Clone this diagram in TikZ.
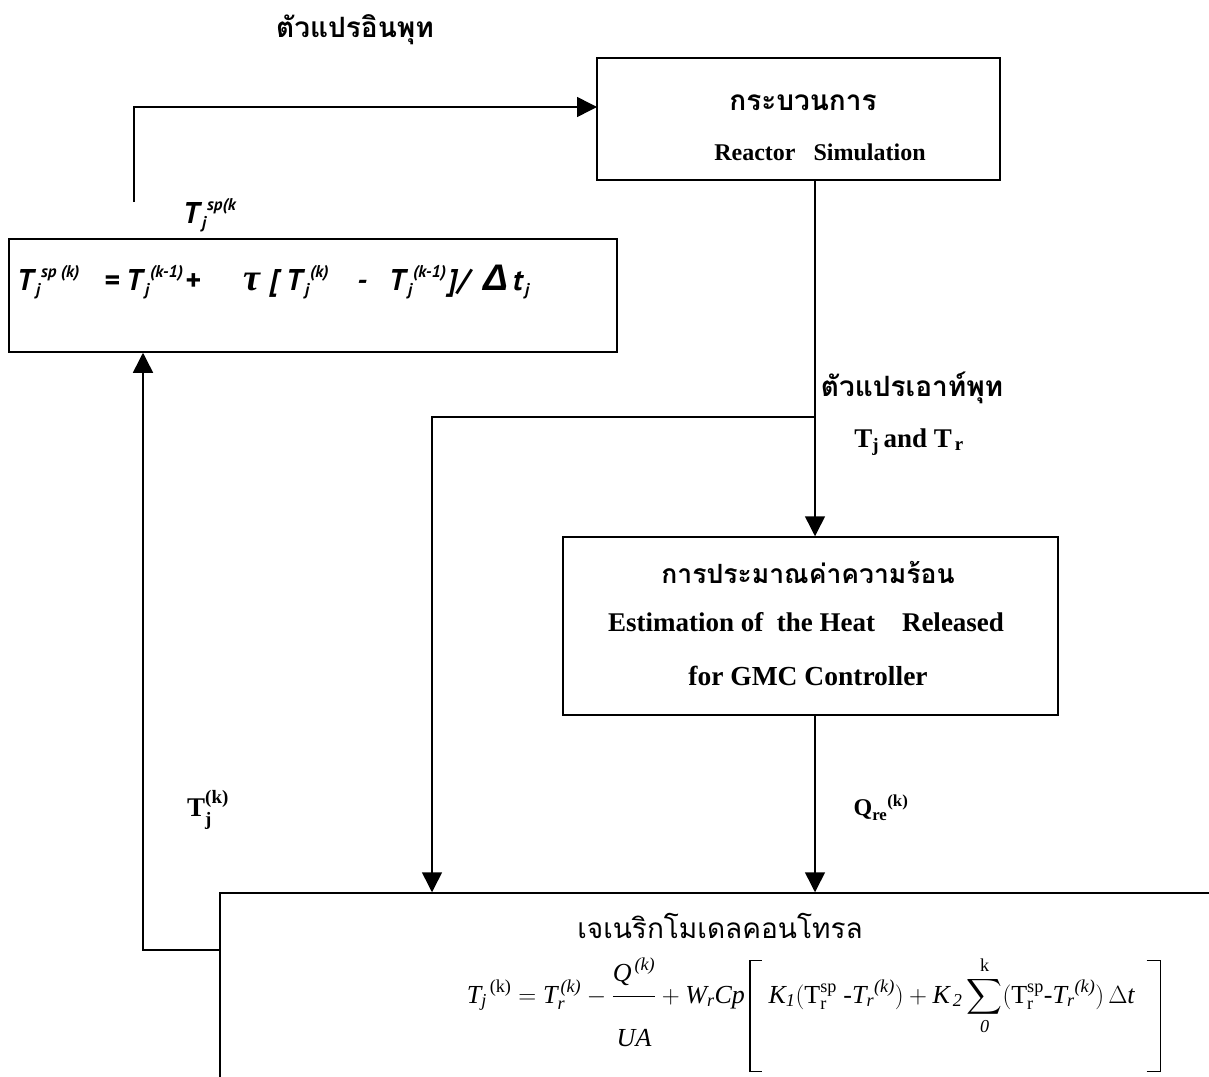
\documentclass[tikz,border=0pt]{standalone}
\usepackage{fontspec}
\usepackage{amsmath}
\setmainfont{Liberation Serif}
\newfontfamily\thai[Script=Thai]{Loma}
\newfontfamily\hum{PT Sans}
\newfontfamily\lsans{Liberation Sans}
\usetikzlibrary{arrows.meta,calc}
\newcommand\ri[1]{\text{\itshape #1}}
\newcommand\rr[1]{\text{\upshape #1}}
\newcommand\bb[1]{\text{\bfseries #1}}
% absolute placement inside a formula line
\newcommand\pc[2]{\makebox[0pt][l]{\hspace*{\dimexpr #1pt\relax}#2}}
\newcommand\smi{\hum\bfseries\itshape\fontsize{17}{18}\selectfont}
\newcommand\TJ[2]{\pc{#1}{T}\pc{\numexpr #1+19\relax}{\raisebox{-5pt}{\smi j}}\pc{\numexpr #1+24\relax}{\raisebox{13pt}{\smi #2}}}
% tall square brackets built from rules
\newcommand\lbrk{\raisebox{-69pt}{\rlap{\rule{13pt}{1.3pt}}\rlap{\raisebox{110.7pt}{\rule{13pt}{1.3pt}}}\rule{1.6pt}{112pt}}\hspace*{11pt}}
\newcommand\rbrk{\hspace*{11pt}\raisebox{-69pt}{\llap{\rule{13pt}{1.3pt}}\llap{\raisebox{110.7pt}{\rule{13pt}{1.3pt}}}\rule{1.6pt}{112pt}}}
\tikzset{
  box/.style={draw, line width=1.5pt, inner sep=0pt},
  arr/.style={line width=1.5pt, -{Triangle[length=20pt,width=20pt]}},
  thaib/.style={font=\thai\bfseries\fontsize{28}{32}\selectfont, inner sep=0pt},
  thair/.style={font=\thai\fontsize{28}{32}\selectfont, inner sep=0pt},
  eng/.style={font=\bfseries\fontsize{24}{28}\selectfont, inner sep=0pt},
  engl/.style={font=\bfseries\fontsize{27}{30}\selectfont, inner sep=0pt},
  hform/.style={font=\hum\bfseries\itshape\fontsize{30}{32}\selectfont, inner sep=0pt, anchor=base west},
}
\begin{document}
\begin{tikzpicture}[x=1pt,y=-1pt]
\useasboundingbox (0,0) rectangle (1209,1076);
\clip (0,0) rectangle (1209,1076);

% boxes
\node[box, minimum width=403pt, minimum height=122pt] (proc) at (798.5,119) {};
\node[box, minimum width=608pt, minimum height=113pt] (lbox) at (313,295.5) {};
\node[box, minimum width=495pt, minimum height=178pt] (est) at (810.5,626) {};
\node[box, minimum width=1000pt, minimum height=220pt] (gmc) at (720,1003) {};

% texts
\node[thaib] (inlab) at (355,30) {ตัวแปรอินพุท};
\node[thaib] (ptitle) at (803,103) {กระบวนการ};
\node[eng] (psub) at (820,152) {Reactor\ \ \ Simulation};
\node[hform] (tsp) at (183,223) {\TJ{0}{sp(k}\hspace*{54pt}};
\node[hform] (lform) at (17,290)
  {\TJ{0}{sp (k)}\pc{87}{=}\TJ{109}{(k-1)}\pc{168}{+}%
   \pc{226}{{\fontsize{38}{38}\selectfont\bfseries\rmfamily\itshape τ}}%
   \pc{252}{[}\TJ{269}{(k)}\pc{340}{-}\TJ{372}{(k-1)}\pc{431}{]/}%
   \pc{466}{{\lsans\bfseries\itshape\fontsize{37}{37}\selectfont Δ}}\pc{496}{t}\pc{508}{\raisebox{-5pt}{\smi j}}\hspace*{520pt}};
\node[thaib] (outlab) at (912,388) {ตัวแปรเอาท์พุท};
\node[engl] (tjtr) at (909,442) {T$_{\bb{j}}$\,and T$_{\,\bb{r}}$};
\node[thaib, font=\thai\bfseries\fontsize{26.5}{30}\selectfont] (etitle) at (808,572) {การประมาณค่าความร้อน};
\node[engl] (esub1) at (806,622) {Estimation of\ \ the Heat\ \ \ \ Released};
\node[engl, font=\bfseries\fontsize{27.5}{30}\selectfont] (esub2) at (808,676) {for GMC Controller};
\node[engl] (tjk) at (208,810) {$\bb{T}^{\bb{(k)}}_{\bb{j}}$};
\node[eng] (qre) at (881,808) {$\bb{Q}_{\bb{re}}{}^{\bb{(k)}}$};
\node[thair] (gtitle) at (720,926) {เจเนริกโมเดลคอนโทรล};
\node[font=\fontsize{26}{30}\selectfont, inner sep=0pt, anchor=base] (gform) at (814,1003)
  {$\displaystyle \ri{T}_{\ri{j}}{}^{\,\rr{(k)}} = \ri{T}^{\,\ri{(k)}}_{\ri{r}} - \frac{\ri{Q}^{\,\ri{(k)}}\rule[-12pt]{0pt}{0pt}}{\rule{0pt}{46pt}\ri{UA}} + \ri{W}_{\ri{r}}\ri{Cp}\,\text{\lbrk}\;\ri{K}_{\ri{1}}(\rr{T}^{\rr{sp}}_{\rr{r}}\ \text{-}\ri{T}_{\ri{r}}{}^{\ri{(k)}}) + \ri{K}_{\,\ri{2}}\sum_{\ri{0}}^{\rr{k}} (\rr{T}^{\rr{sp}}_{\rr{r}}\text{-}\ri{T}_{\ri{r}}{}^{\ri{(k)}})\,\Delta \ri{t}\;\;\text{\rbrk}$};

% connectors
\coordinate (c1) at (134,202);
\coordinate (pin) at (597,107);
\draw[arr] (c1) |- (pin);
\coordinate (xr) at (815,0);
\draw[arr] (proc.south -| xr) -- (est.north -| xr);
\coordinate (br) at (815,417);
\coordinate (xl) at (432,0);
\draw[arr] (br) -| (gmc.north -| xl);
\draw[arr] (est.south -| xr) -- (gmc.north -| xr);
\coordinate (fb) at (220,950);
\coordinate (xf) at (143,0);
\draw[arr] (fb) -| (lbox.south -| xf);
\end{tikzpicture}
\end{document}
